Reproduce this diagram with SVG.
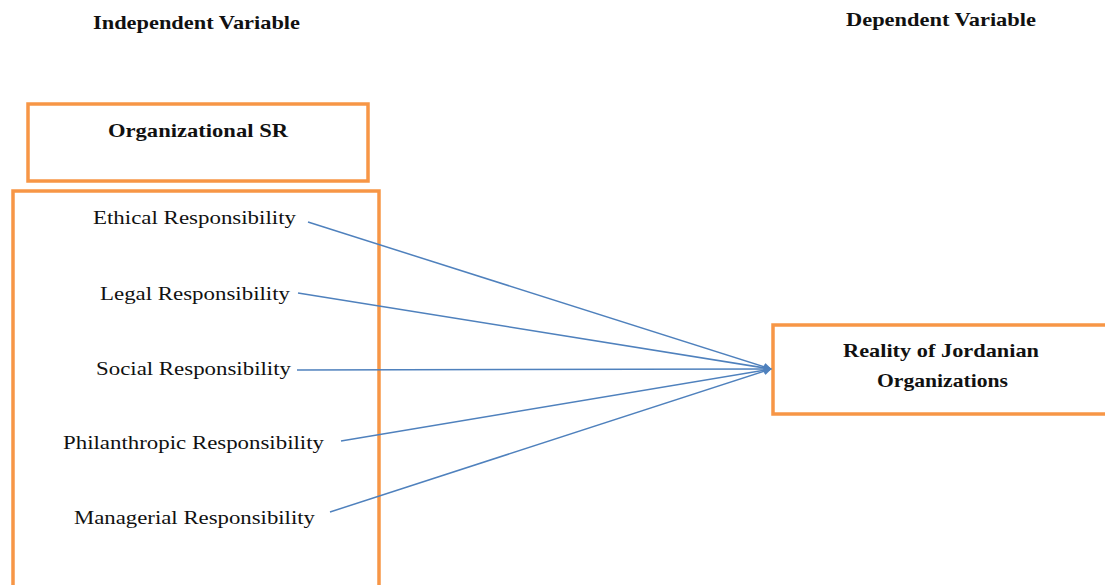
<svg xmlns="http://www.w3.org/2000/svg" width="1105" height="585" viewBox="0 0 1105 585">
<defs>
<marker id="arr" viewBox="0 0 10 10" refX="9" refY="5" markerWidth="8" markerHeight="8" orient="auto" markerUnits="userSpaceOnUse">
<path d="M0,0 L10,5 L0,10 z" fill="#4F81BD"/>
</marker>
<style>
.box{fill:#fff;stroke:#F79646;stroke-width:3.5}
.t{font-family:"Liberation Serif","Times New Roman",serif;font-size:19px;fill:#111}
.b{font-weight:bold;font-size:19px}
.c{stroke:#4F81BD;stroke-width:1.5;fill:none}
</style>
</defs>
<rect width="1105" height="585" fill="#fff"/>
<text class="t b" x="93" y="29" textLength="207" lengthAdjust="spacingAndGlyphs">Independent  Variable</text>
<text class="t b" x="846" y="26" textLength="190" lengthAdjust="spacingAndGlyphs">Dependent  Variable</text>
<g id="org-sr">
<rect class="box" x="28" y="104" width="340" height="77"/>
<text class="t b" x="108" y="137" textLength="180" lengthAdjust="spacingAndGlyphs">Organizational  SR</text>
</g>
<g id="dimensions">
<rect class="box" x="13" y="191" width="366" height="400"/>
<text class="t" x="93" y="224" textLength="203" lengthAdjust="spacingAndGlyphs">Ethical Responsibility</text>
<text class="t" x="100" y="300" textLength="190" lengthAdjust="spacingAndGlyphs">Legal Responsibility</text>
<text class="t" x="96" y="375" textLength="195" lengthAdjust="spacingAndGlyphs">Social Responsibility</text>
<text class="t" x="63" y="449" textLength="261" lengthAdjust="spacingAndGlyphs">Philanthropic Responsibility</text>
<text class="t" x="74" y="524" textLength="241" lengthAdjust="spacingAndGlyphs">Managerial Responsibility</text>
</g>
<g id="reality">
<rect class="box" x="773" y="325" width="345" height="89"/>
<text class="t b" x="843" y="357" textLength="196" lengthAdjust="spacingAndGlyphs">Reality of Jordanian</text>
<text class="t b" x="877" y="387" textLength="131" lengthAdjust="spacingAndGlyphs">Organizations</text>
</g>
<g id="connectors">
<line class="c" x1="308" y1="222" x2="771" y2="369" marker-end="url(#arr)"/>
<line class="c" x1="298" y1="293" x2="771" y2="369" marker-end="url(#arr)"/>
<line class="c" x1="297" y1="370" x2="771" y2="369" marker-end="url(#arr)"/>
<line class="c" x1="341" y1="441" x2="771" y2="369" marker-end="url(#arr)"/>
<line class="c" x1="330" y1="512" x2="771" y2="369" marker-end="url(#arr)"/>
</g>
</svg>
